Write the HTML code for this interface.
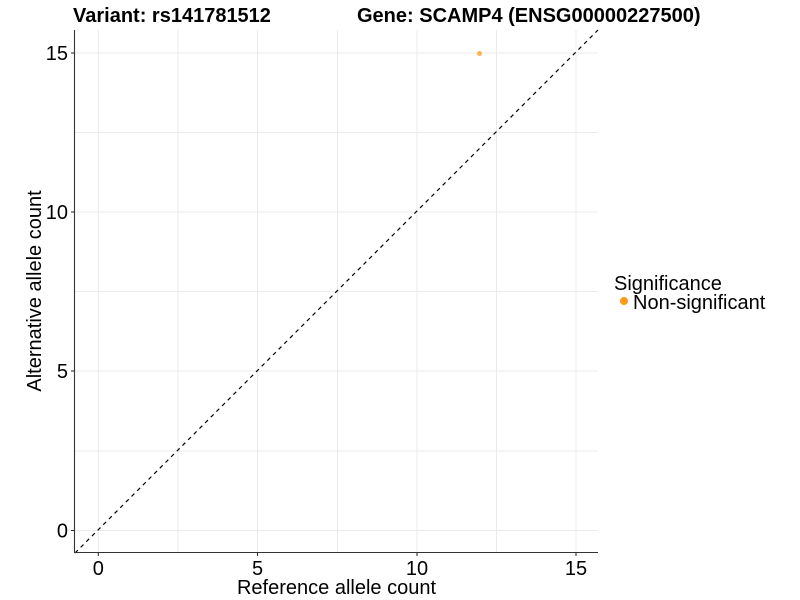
<!DOCTYPE html>
<html><head><style>
body{margin:0;background:#fff;}
svg{display:block;font-family:"Liberation Sans",Arial,sans-serif;}
</style></head><body>
<svg width="800" height="600" viewBox="0 0 800 600">
<rect width="800" height="600" fill="#fff"/>
<g stroke="#ebebeb" stroke-width="1">
<line x1="178" y1="30" x2="178" y2="552"/>
<line x1="337.5" y1="30" x2="337.5" y2="552"/>
<line x1="496.5" y1="30" x2="496.5" y2="552"/>
<line x1="75" y1="451" x2="598" y2="451"/>
<line x1="75" y1="291.5" x2="598" y2="291.5"/>
<line x1="75" y1="132.5" x2="598" y2="132.5"/>
<line x1="98.3" y1="30" x2="98.3" y2="552"/>
<line x1="257.5" y1="30" x2="257.5" y2="552"/>
<line x1="417" y1="30" x2="417" y2="552"/>
<line x1="576" y1="30" x2="576" y2="552"/>
<line x1="75" y1="530.5" x2="598" y2="530.5"/>
<line x1="75" y1="371" x2="598" y2="371"/>
<line x1="75" y1="212" x2="598" y2="212"/>
<line x1="75" y1="53" x2="598" y2="53"/>
</g>
<line x1="75" y1="553" x2="598" y2="30" stroke="#000" stroke-width="1.2" stroke-dasharray="4,4"/>
<circle cx="479.5" cy="53.5" r="2.5" fill="#ff9a1a" fill-opacity="0.75"/>
<g stroke="#333" stroke-width="1.1">
<line x1="74.5" y1="30" x2="74.5" y2="553"/>
<line x1="74" y1="552.5" x2="598" y2="552.5"/>
<line x1="98.3" y1="553" x2="98.3" y2="556"/>
<line x1="257.5" y1="553" x2="257.5" y2="556"/>
<line x1="417" y1="553" x2="417" y2="556"/>
<line x1="576" y1="553" x2="576" y2="556"/>
<line x1="71" y1="530.5" x2="74" y2="530.5"/>
<line x1="71" y1="371" x2="74" y2="371"/>
<line x1="71" y1="212" x2="74" y2="212"/>
<line x1="71" y1="53" x2="74" y2="53"/>
</g>
<g font-size="20" fill="#000">
<text x="98.3" y="575" text-anchor="middle">0</text>
<text x="257.5" y="575" text-anchor="middle">5</text>
<text x="417" y="575" text-anchor="middle">10</text>
<text x="576" y="575" text-anchor="middle">15</text>
<text x="68" y="537.5" text-anchor="end">0</text>
<text x="68" y="378" text-anchor="end">5</text>
<text x="68" y="219" text-anchor="end">10</text>
<text x="68" y="60" text-anchor="end">15</text>
<text x="336.5" y="594" text-anchor="middle">Reference allele count</text>
<text transform="translate(41,291) rotate(-90)" text-anchor="middle">Alternative allele count</text>
<text x="614" y="290">Significance</text>
<text x="633" y="309">Non-significant</text>
</g>
<circle cx="624" cy="301" r="4" fill="#ff9a1a"/>
<g font-size="20" font-weight="bold" fill="#000">
<text x="73" y="22">Variant: rs141781512</text>
<text x="357" y="22">Gene: SCAMP4 (ENSG00000227500)</text>
</g>
</svg>
</body></html>
